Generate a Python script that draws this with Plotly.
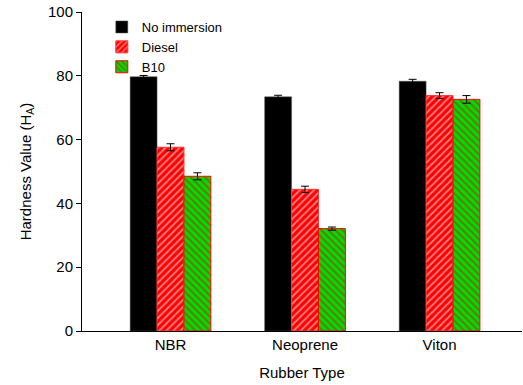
import plotly.graph_objects as go

categories = ["NBR", "Neoprene", "Viton"]
series_names = ["No immersion", "Diesel", "B10"]
no_immersion = [79.7, 73.4, 78.3]
no_immersion_err = [0.4, 0.5, 0.6]
diesel = [57.6, 44.4, 73.8]
diesel_err = [1.1, 1.0, 0.9]
b10 = [48.5, 32.1, 72.6]
b10_err = [1.1, 0.5, 1.2]
y_ticks = [0, 20, 40, 60, 80, 100]

FONT = "Liberation Sans, Arial, sans-serif"

fig = go.Figure()
err_style = dict(type="data", color="black", thickness=1, width=4)

fig.add_trace(go.Bar(
    x=categories, y=no_immersion, name=series_names[0],
    marker=dict(color="black", line=dict(color="#555555", width=0.5)),
    error_y=dict(array=no_immersion_err, **err_style),
))
fig.add_trace(go.Bar(
    x=categories, y=diesel, name=series_names[1],
    marker=dict(color="#ff0000", line=dict(color="#ff3333", width=1),
                pattern=dict(shape="/", fgcolor="white", bgcolor="#ff0000",
                             size=5, solidity=0.35)),
    error_y=dict(array=diesel_err, **err_style),
))
fig.add_trace(go.Bar(
    x=categories, y=b10, name=series_names[2],
    marker=dict(color="#00cc00", line=dict(color="#ff0000", width=1),
                pattern=dict(shape="\\", fgcolor="#cc1010", bgcolor="#00dd00",
                             size=5, solidity=0.4)),
    error_y=dict(array=b10_err, **err_style),
))

fig.update_layout(
    width=523, height=385,
    margin=dict(l=82, r=1, t=12, b=54),
    paper_bgcolor="white", plot_bgcolor="white",
    barmode="group", bargap=0.4, bargroupgap=0,
    font=dict(family=FONT, size=15, color="black"),
    showlegend=True,
    legend=dict(x=0.045, y=1.0, xanchor="left", yanchor="top",
                bgcolor="rgba(0,0,0,0)", font=dict(size=13),
                tracegroupgap=0, itemwidth=30),
)
fig.update_xaxes(
    range=[-0.658, 2.613], showline=True, linecolor="black", linewidth=1,
    ticks="", showgrid=False, zeroline=False,
    tickfont=dict(size=15),
    title=dict(text="Rubber Type", font=dict(size=15), standoff=15),
)
fig.update_yaxes(
    range=[0, 100], tickvals=y_ticks, showline=True, linecolor="black", linewidth=1,
    ticks="outside", ticklen=5, tickcolor="black", showgrid=False, zeroline=False,
    tickfont=dict(size=15),
    title=dict(text="Hardness Value (H<sub>A</sub>)", font=dict(size=15), standoff=12),
)

fig.write_html("out.html")
